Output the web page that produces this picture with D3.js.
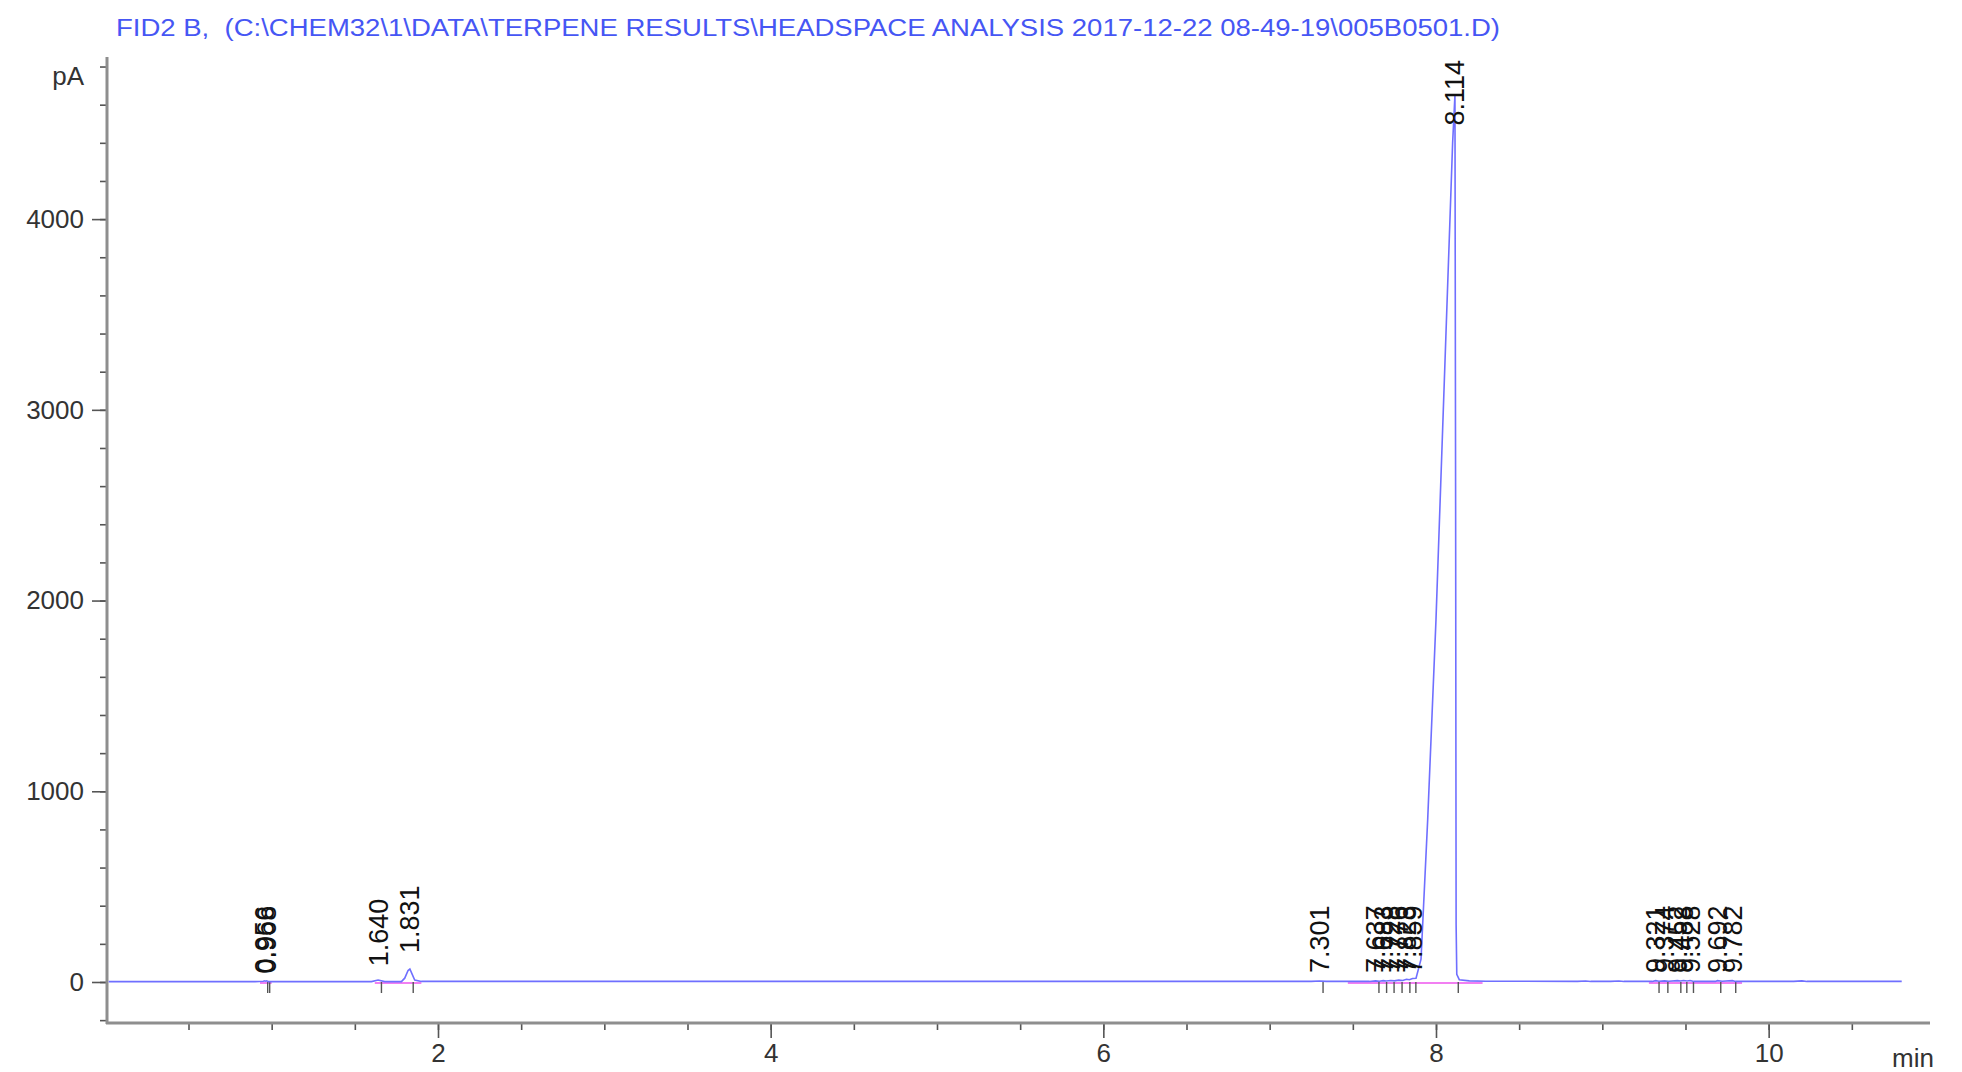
<!DOCTYPE html>
<html>
<head>
<meta charset="utf-8">
<script src="https://cdn.jsdelivr.net/npm/d3@7"></script>
<style>
  body { margin: 0; background: #fff; }
  svg { display: block; font-family: "Liberation Sans", Arial, sans-serif; }
</style>
</head>
<body>
<svg id="chart" width="1962" height="1072"></svg>
<script>
// chromatogram trace (min, pA)
const trace_t  = [0.02, 0.90, 0.95, 0.956, 0.962, 0.968, 0.98, 1.60, 1.64, 1.68, 1.78, 1.80, 1.82, 1.831, 1.845, 1.86, 1.90,
                  7.25, 7.30, 7.34, 7.60, 7.637, 7.66, 7.683, 7.70, 7.728, 7.75, 7.776, 7.80, 7.823, 7.84, 7.859, 7.88,
                  7.91, 7.95, 8.00, 8.04, 8.08, 8.10, 8.114, 8.118, 8.121, 8.125, 8.14, 8.20, 8.30,
                  8.85, 8.90, 8.93, 9.00, 9.05, 9.10, 9.13, 9.30, 9.321, 9.34, 9.374, 9.40, 9.452, 9.47, 9.488, 9.51,
                  9.528, 9.55, 9.68, 9.692, 9.72, 9.782, 9.80, 10.15, 10.20, 10.23, 10.80];
const trace_pA = [2, 2, 4, 6, 4, 6, 2, 2, 10, 2, 2, 20, 60, 68, 40, 10, 3,
                  3, 5, 3, 3, 6, 4, 7, 5, 8, 6, 10, 8, 14, 12, 18, 20,
                  120, 850, 1900, 2900, 3900, 4400, 4650, 2500, 300, 40, 12, 6, 4,
                  3, 5, 3, 4, 3, 5, 3, 3, 7, 4, 6, 4, 7, 5, 8, 5,
                  8, 3, 3, 7, 4, 7, 3, 3, 6, 3, 3];

// integrated peaks: retention time and apex used to place the label
const peak_rt   = [0.956, 0.968, 1.640, 1.831, 7.301, 7.637, 7.683, 7.728, 7.776, 7.823, 7.859, 8.114,
                   9.321, 9.374, 9.452, 9.488, 9.528, 9.692, 9.782];
const peak_apex = [3, 3, 40, 110, 5, 5, 5, 5, 5, 5, 5, 4650, 5, 5, 5, 5, 5, 5, 5];

// integration baselines (start, end) in min
const base_start = [0.93, 1.62, 7.47, 9.28];
const base_end   = [1.00, 1.90, 8.28, 9.84];

const x_major = [2, 4, 6, 8, 10];
const y_major = [0, 1000, 2000, 3000, 4000];

const title = "FID2 B,  (C:\\CHEM32\\1\\DATA\\TERPENE RESULTS\\HEADSPACE ANALYSIS 2017-12-22 08-49-19\\005B0501.D)";

const svg = d3.select('#chart');

const xScale = d3.scaleLinear().domain([0.01, 10.97]).range([107, 1930]);
const yScale = d3.scaleLinear().domain([-215, 4850]).range([1023, 57]);

const axisColor = '#8e8e8e';
const y0 = yScale(0);

// title
svg.append('text')
  .attr('x', 116).attr('y', 36)
  .attr('font-size', 23)
  .attr('fill', '#4656f4')
  .attr('textLength', 1384)
  .attr('lengthAdjust', 'spacingAndGlyphs')
  .style('white-space', 'pre')
  .text(title);

// y axis
const d3range = (a, b, s) => d3.range(a, b + s / 2, s);
const yAxisMinor = d3.axisLeft(yScale).tickValues(d3range(-200, 4800, 200)).tickSize(7).tickFormat('');
const yAxisMajor = d3.axisLeft(yScale).tickValues(y_major).tickSize(15).tickPadding(8).tickFormat(d3.format('d'));
const gy = svg.append('g').attr('transform', 'translate(107,0)');
gy.append('g').call(yAxisMinor);
gy.append('g').call(yAxisMajor);
gy.selectAll('.domain').remove();
gy.selectAll('line').attr('stroke', '#555').attr('stroke-width', 1.6);
gy.selectAll('text').attr('font-size', 26).attr('fill', '#333').attr('font-family', '"Liberation Sans", Arial, sans-serif');
svg.append('line').attr('x1', 107).attr('x2', 107).attr('y1', 57).attr('y2', 1024)
  .attr('stroke', axisColor).attr('stroke-width', 3);

// x axis
const xAxisMinor = d3.axisBottom(xScale).tickValues(d3range(0.5, 10.5, 0.5)).tickSize(7).tickFormat('');
const xAxisMajor = d3.axisBottom(xScale).tickValues(x_major).tickSize(15).tickPadding(6).tickFormat(d3.format('d'));
const gx = svg.append('g').attr('transform', 'translate(0,1023)');
gx.append('g').call(xAxisMinor);
gx.append('g').call(xAxisMajor);
gx.selectAll('.domain').remove();
gx.selectAll('line').attr('stroke', '#555').attr('stroke-width', 1.6);
gx.selectAll('text').attr('font-size', 26).attr('fill', '#333').attr('font-family', '"Liberation Sans", Arial, sans-serif');
svg.append('line').attr('x1', 106).attr('x2', 1930).attr('y1', 1023).attr('y2', 1023)
  .attr('stroke', axisColor).attr('stroke-width', 3);

svg.append('text').attr('x', 84).attr('y', 85).attr('text-anchor', 'end')
  .attr('font-size', 26).attr('fill', '#333').text('pA');
svg.append('text').attr('x', 1892).attr('y', 1067)
  .attr('font-size', 26).attr('fill', '#333').text('min');

// integration baselines
svg.append('g').selectAll('line').data(base_start).enter().append('line')
  .attr('x1', d => xScale(d))
  .attr('x2', (d, i) => xScale(base_end[i]))
  .attr('y1', y0 + 1).attr('y2', y0 + 1)
  .attr('stroke', '#ee55ee').attr('stroke-width', 1.5);

// peak end ticks
svg.append('g').selectAll('line').data(peak_rt).enter().append('line')
  .attr('x1', d => xScale(d + 0.02)).attr('x2', d => xScale(d + 0.02))
  .attr('y1', y0).attr('y2', y0 + 11)
  .attr('stroke', '#555').attr('stroke-width', 1.4);

// trace
const line = d3.line().x((d, i) => xScale(trace_t[i])).y(d => yScale(d));
svg.append('path').datum(trace_pA)
  .attr('d', line)
  .attr('fill', 'none')
  .attr('stroke', '#6f6fff')
  .attr('stroke-width', 1.6);

// retention time labels
const labels = svg.append('g').selectAll('text').data(peak_rt).enter().append('text')
  .attr('font-size', 27)
  .attr('fill', '#111')
  .attr('dy', '0.35em')
  .text(d => d.toFixed(3));
labels.each(function(d, i) {
  const len = this.getComputedTextLength();
  let yb = yScale(peak_apex[i]) - 8;
  if (yb - len < 60) yb = 60 + len;
  d3.select(this).attr('transform', `translate(${xScale(d)},${yb}) rotate(-90)`);
});
</script>
</body>
</html>
